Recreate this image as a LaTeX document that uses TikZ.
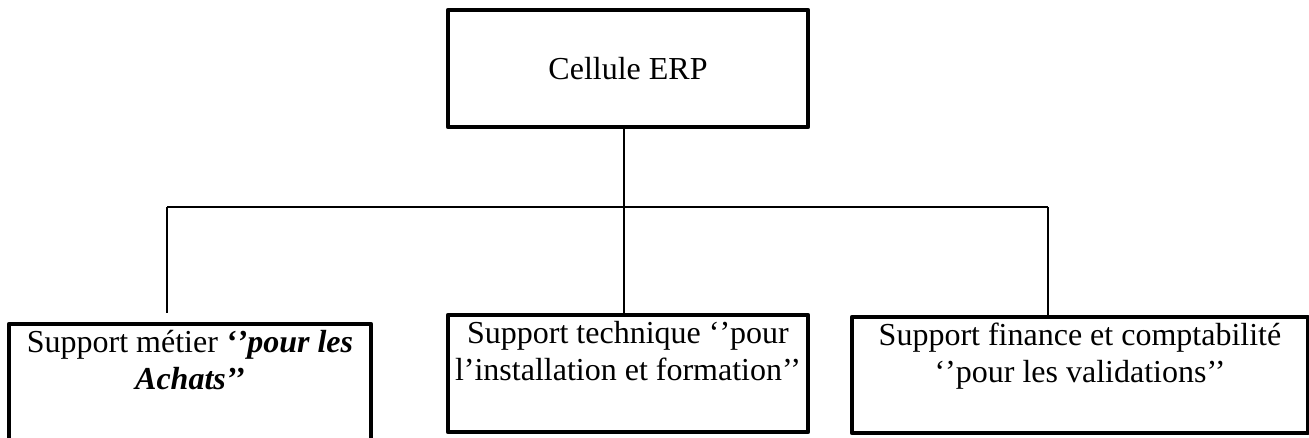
\documentclass[tikz,border=0pt]{standalone}
\usepackage{fontspec}
\setmainfont{Liberation Serif}
\begin{document}
\begin{tikzpicture}[x=1pt,y=-1pt,
  unitbox/.style={draw, line width=4.5pt, line join=round, inner sep=0pt, outer sep=0pt, anchor=north west},
  conn/.style={line width=2pt}]
\useasboundingbox (0,0) rectangle (1309,438);
\clip (0,0) rectangle (1309,438);
\newcommand{\boxtext}[3]{\parbox[t][#2pt][t]{#1pt}{\vspace*{6pt}\centering\fontsize{32}{37}\selectfont #3}}

% head of the organisation
\node[unitbox] (head) at (448,10)
  {\parbox[c][117pt][c]{360pt}{\centering\fontsize{32}{37}\selectfont Cellule ERP}};

% the three support teams
\node[unitbox] (achats) at (9,324)
  {\boxtext{362}{117}{Support métier \textbf{\textit{‘’pour les}}\\ \textbf{\textit{Achats’’}}}};
\node[unitbox] (tech) at (448,315)
  {\boxtext{360}{117}{Support technique ‘’pour\\ l’installation et formation’’}};
\node[unitbox] (fin) at (852,317)
  {\boxtext{456}{116}{Support finance et comptabilité\\ ‘’pour les validations’’}};

% connectors
\coordinate (trunk) at (624,0);
\coordinate (barL) at (167,207);
\coordinate (barR) at (1048,207);
\coordinate (legL) at (167,313);
\draw[conn] (head.south -| trunk) -- (tech.north -| trunk);
\draw[conn] (barL) -- (barR);
\draw[conn] (barL) -- (legL);
\draw[conn] (barR) -- (fin.north -| barR);
\end{tikzpicture}
\end{document}
